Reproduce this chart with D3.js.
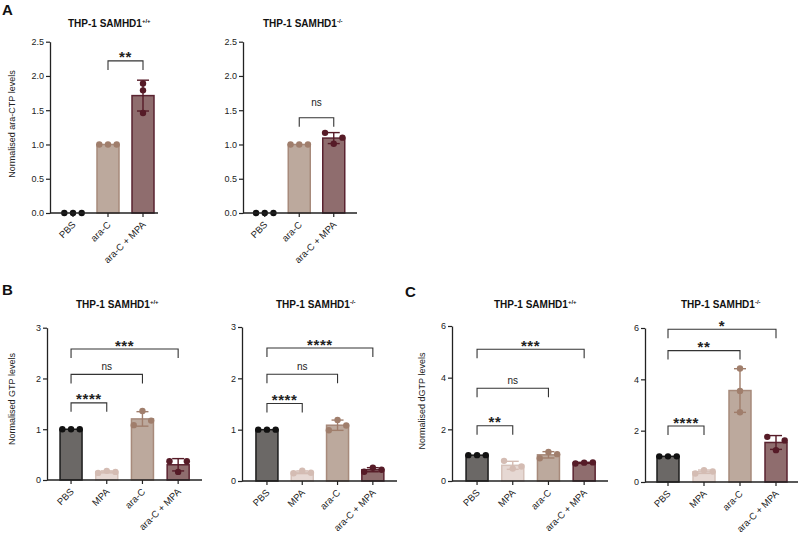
<!DOCTYPE html>
<html>
<head>
<meta charset="utf-8">
<script src="https://cdn.jsdelivr.net/npm/d3@7"></script>
<style>
  body { margin: 0; background: #fff; }
  text { font-family: "Liberation Sans", Arial, Helvetica, sans-serif; fill: #222; }
</style>
</head>
<body>
<svg width="800" height="539"></svg>
<script>
// categories
const catsA = ["PBS", "ara-C", "ara-C + MPA"];
const catsBC = ["PBS", "MPA", "ara-C", "ara-C + MPA"];

// replicate values (left, centre, right as they sit in each bar)
const araCTP_wt = [[0, 0, 0], [1, 1, 1], [1.89, 1.79, 1.46]];
const araCTP_ko = [[0, 0, 0], [1, 1, 1], [1.17, 1.01, 1.10]];
const gtp_wt = [[1, 1, 1], [0.14, 0.18, 0.16], [1.08, 1.36, 1.17], [0.37, 0.16, 0.37]];
const gtp_ko = [[1, 1, 1], [0.15, 0.20, 0.16], [0.99, 1.19, 1.08], [0.18, 0.26, 0.22]];
const dgtp_wt = [[1, 1, 1], [0.78, 0.48, 0.56], [0.88, 1.12, 1.04], [0.68, 0.71, 0.72]];
const dgtp_ko = [[1, 1, 1], [0.33, 0.46, 0.41], [2.72, 3.55, 4.42], [1.76, 1.24, 1.62]];

// significance brackets: [from, to, level, label]
const sigA_wt = [["ara-C", "ara-C + MPA", 2.22, "**"]];
const sigA_ko = [["ara-C", "ara-C + MPA", 1.39, "ns"]];
const sigB_wt = [["PBS", "MPA", 1.52, "****"], ["PBS", "ara-C", 2.08, "ns"], ["PBS", "ara-C + MPA", 2.58, "***"]];
const sigB_ko = [["PBS", "MPA", 1.51, "****"], ["PBS", "ara-C", 2.08, "ns"], ["PBS", "ara-C + MPA", 2.59, "****"]];
const sigC_wt = [["PBS", "MPA", 2.14, "**"], ["PBS", "ara-C", 3.59, "ns"], ["PBS", "ara-C + MPA", 5.10, "***"]];
const sigC_ko = [["PBS", "MPA", 2.18, "****"], ["PBS", "ara-C", 5.12, "**"], ["PBS", "ara-C + MPA", 5.95, "*"]];

// tick labels
const ticksA = [0, 0.5, 1.0, 1.5, 2.0, 2.5];
const ticksB = [0, 1, 2, 3];
const ticksC = [0, 2, 4, 6];

const colors = {
  "PBS":         { fill: "#6b6866", stroke: "#1c1c1c", dot: "#111111" },
  "MPA":         { fill: "#e6d8d3", stroke: "#d6c2ba", dot: "#d4bcb3" },
  "ara-C":       { fill: "#bca99d", stroke: "#a78a7b", dot: "#a07e6c" },
  "ara-C + MPA": { fill: "#8f6d6e", stroke: "#5a2330", dot: "#561b27" }
};

const panels = [
  { cats: catsA, data: araCTP_wt, sig: sigA_wt, ticks: ticksA, fmt: d3.format(".1f"), yMax: 2.5,
    x0: 50, xEnd: 158, y0: 213, yTop: 41.7, start: 55.5, step: 35,
    geno: "+/+", tx: 68, ty: 27, ylab: "Normalised ara-CTP levels", lx: 15, ly: 124, nsGap: 12 },
  { cats: catsA, data: araCTP_ko, sig: sigA_ko, ticks: ticksA, fmt: d3.format(".1f"), yMax: 2.5,
    x0: 243, xEnd: 357, y0: 213, yTop: 41.7, start: 247.5, step: 34.5,
    geno: "-/-", tx: 263, ty: 27, nsGap: 12 },
  { cats: catsBC, data: gtp_wt, sig: sigB_wt, ticks: ticksB, fmt: d3.format("d"), yMax: 3,
    x0: 47, xEnd: 202, y0: 480, yTop: 327.7, start: 53.2, step: 35.7,
    geno: "+/+", tx: 76, ty: 308, ylab: "Normalised GTP levels", lx: 15, ly: 399, nsGap: 4 },
  { cats: catsBC, data: gtp_ko, sig: sigB_ko, ticks: ticksB, fmt: d3.format("d"), yMax: 3,
    x0: 242, xEnd: 397, y0: 481, yTop: 327, start: 249.3, step: 35.3,
    geno: "-/-", tx: 276, ty: 308, nsGap: 4 },
  { cats: catsBC, data: dgtp_wt, sig: sigC_wt, ticks: ticksC, fmt: d3.format("d"), yMax: 6,
    x0: 452, xEnd: 608, y0: 481, yTop: 326, start: 459.2, step: 35.7,
    geno: "+/+", tx: 494, ty: 308, ylab: "Normalised dGTP levels", lx: 425, ly: 401, nsGap: 4 },
  { cats: catsBC, data: dgtp_ko, sig: sigC_ko, ticks: ticksC, fmt: d3.format("d"), yMax: 6,
    x0: 645, xEnd: 798, y0: 482, yTop: 328, start: 650, step: 36,
    geno: "-/-", tx: 681, ty: 308, nsGap: 4 }
];

const svg = d3.select("svg");
const barW = 22, dotR = 3.2, spread = 8.7, capW = 12;

// panel letters
svg.selectAll(".letter")
  .data([["A", 2, 15], ["B", 2, 295], ["C", 405, 297]])
  .enter().append("text")
    .attr("x", d => d[1])
    .attr("y", d => d[2])
    .attr("font-size", 15)
    .attr("font-weight", "bold")
    .style("fill", "#111")
    .text(d => d[0]);

panels.forEach(p => {
  const g = svg.append("g");
  const n = p.cats.length;
  const pin = 1 - barW / p.step;

  const y = d3.scaleLinear().domain([0, p.yMax]).range([p.y0, p.yTop]);
  const x = d3.scaleBand()
    .domain(p.cats)
    .range([p.start, p.start + p.step * n])
    .paddingInner(pin)
    .paddingOuter(pin / 2);
  const cx = c => x(c) + x.bandwidth() / 2;

  const groups = p.cats.map((c, i) => {
    const vals = p.data[i];
    return { cat: c, vals: vals, mean: d3.mean(vals), sd: d3.deviation(vals) || 0 };
  });

  // bars
  g.selectAll(".bar")
    .data(groups.filter(d => d.mean > 0))
    .enter().append("rect")
      .attr("x", d => x(d.cat))
      .attr("y", d => y(d.mean))
      .attr("width", x.bandwidth())
      .attr("height", d => y(0) - y(d.mean))
      .attr("fill", d => colors[d.cat].fill)
      .attr("stroke", d => colors[d.cat].stroke)
      .attr("stroke-width", 1.5);

  // error bars
  groups.filter(d => d.sd > 0).forEach(d => {
    const col = colors[d.cat].dot;
    const xc = cx(d.cat);
    const lo = y(d.mean - d.sd), hi = y(d.mean + d.sd);
    g.append("line").attr("x1", xc).attr("x2", xc).attr("y1", lo).attr("y2", hi)
      .attr("stroke", col).attr("stroke-width", 1.4);
    [lo, hi].forEach(yy => {
      g.append("line").attr("x1", xc - capW / 2).attr("x2", xc + capW / 2)
        .attr("y1", yy).attr("y2", yy)
        .attr("stroke", col).attr("stroke-width", 1.4);
    });
  });

  // replicate dots, spread sideways only when they would overlap
  groups.forEach(d => {
    const py = d.vals.map(v => y(v));
    let crowded = false;
    for (let a = 0; a < py.length; a++)
      for (let b = a + 1; b < py.length; b++)
        if (Math.abs(py[a] - py[b]) < 6) crowded = true;
    g.selectAll(null)
      .data(d.vals)
      .enter().append("circle")
        .attr("cx", (v, k) => cx(d.cat) + (crowded ? (k - 1) * spread : 0))
        .attr("cy", v => y(v))
        .attr("r", dotR)
        .attr("fill", colors[d.cat].dot);
  });

  // y axis
  const ya = g.append("g")
    .attr("transform", `translate(${p.x0},0)`)
    .call(d3.axisLeft(y).tickValues(p.ticks).tickFormat(p.fmt).tickSize(4).tickSizeOuter(0));
  ya.select(".domain").attr("stroke", "#222").attr("stroke-width", 1.3);
  ya.selectAll(".tick line").attr("stroke", "#222").attr("stroke-width", 1.2);
  ya.selectAll(".tick text").attr("font-size", 9).attr("x", -6).style("fill", "#222");

  // x axis
  const xa = g.append("g")
    .attr("transform", `translate(0,${p.y0})`)
    .call(d3.axisBottom(x).tickSize(4));
  xa.select(".domain").remove();
  xa.selectAll(".tick line").attr("stroke", "#222").attr("stroke-width", 1.2);
  xa.selectAll(".tick text")
    .attr("font-size", 9.5)
    .attr("x", 0).attr("y", 0).attr("dy", "0.35em")
    .attr("text-anchor", "end")
    .attr("transform", "translate(1,10) rotate(-45)")
    .style("fill", "#222");
  g.append("line")
    .attr("x1", p.x0).attr("x2", p.xEnd)
    .attr("y1", p.y0).attr("y2", p.y0)
    .attr("stroke", "#222").attr("stroke-width", 1.3);

  // significance brackets
  p.sig.forEach(s => {
    const xa1 = cx(s[0]), xb1 = cx(s[1]), yt = y(s[2]);
    g.append("path")
      .attr("d", `M${xa1},${yt + 9}V${yt}H${xb1}V${yt + 9}`)
      .attr("fill", "none").attr("stroke", "#333").attr("stroke-width", 1.1);
    const isNs = s[3] === "ns";
    g.append("text")
      .attr("x", (xa1 + xb1) / 2)
      .attr("y", isNs ? yt - p.nsGap : yt + 1.5)
      .attr("text-anchor", "middle")
      .attr("font-size", isNs ? 10 : 15)
      .attr("font-weight", isNs ? "normal" : "bold")
      .attr("letter-spacing", isNs ? 0 : 0.6)
      .text(s[3]);
  });

  // title
  const t = g.append("text")
    .attr("x", p.tx).attr("y", p.ty)
    .attr("font-size", 10).attr("font-weight", "bold")
    .style("fill", "#111");
  t.append("tspan").text("THP-1 SAMHD1");
  t.append("tspan").attr("font-size", 6).attr("dy", -3.8).text(p.geno);

  // y label
  if (p.ylab) {
    g.append("text")
      .attr("transform", `translate(${p.lx},${p.ly}) rotate(-90)`)
      .attr("text-anchor", "middle")
      .attr("font-size", 9)
      .text(p.ylab);
  }
});
</script>
</body>
</html>
